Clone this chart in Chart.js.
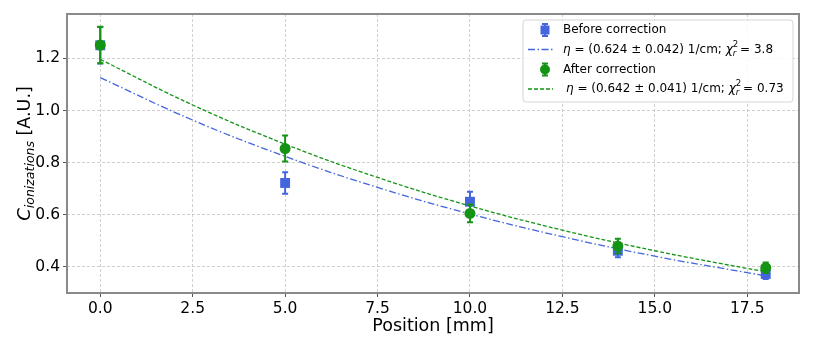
<!DOCTYPE html>
<html>
<head>
<meta charset="utf-8">
<script src="https://cdn.jsdelivr.net/npm/chart.js@4.4.1/dist/chart.umd.min.js"></script>
<style>
  html, body { margin: 0; padding: 0; background: #fff; }
  canvas { display: block; }
</style>
</head>
<body>
<canvas id="myChart" width="813" height="349"></canvas>
<script>
"use strict";

// measured points
const positions = [0, 5, 10, 14, 18];
const beforeVals = [1.25, 0.722, 0.650, 0.462, 0.373];
const beforeErr = [0.07, 0.041, 0.038, 0.025, 0.019];
const afterVals = [1.251, 0.854, 0.605, 0.480, 0.397];
const afterErr = [0.07, 0.05, 0.034, 0.028, 0.02];

// fit curves
const fitX = [0, 2.5, 5, 7.5, 10, 12.5, 15, 17.5, 18];
const fitBeforeVals = [1.126, 0.963, 0.824, 0.705, 0.603, 0.516, 0.441, 0.378, 0.366];
const fitAfterVals = [1.196, 1.021, 0.871, 0.743, 0.634, 0.541, 0.462, 0.394, 0.382];

const xTicks = [0, 2.5, 5, 7.5, 10, 12.5, 15, 17.5];
const yTicks = [0.4, 0.6, 0.8, 1.0, 1.2];

const legendLabels = ['Before correction', 'After correction'];
const fitLabels = [
    { eta: '(0.624 \u00b1 0.042) 1/cm; ', chi: ' = 3.8' },
    { eta: '(0.642 \u00b1 0.041) 1/cm; ', chi: ' = 0.73' }
];

const BLUE = '#4366dd';
const GREEN = '#149414';
const FONT = "'DejaVu Sans', sans-serif";

function toXY(xs, ys) {
    return xs.map((x, i) => ({ x: x, y: ys[i] }));
}

// error bars, drawn under the markers
const errorBars = {
    id: 'errorBars',
    beforeDatasetDraw(chart, args) {
        const ds = chart.data.datasets[args.index];
        if (!ds.errors) return;
        const ctx = chart.ctx;
        const xs = chart.scales.x, ys = chart.scales.y;
        ctx.save();
        ctx.strokeStyle = ds.backgroundColor;
        ctx.lineWidth = 2;
        ds.data.forEach((p, i) => {
            const px = xs.getPixelForValue(p.x);
            const top = ys.getPixelForValue(p.y + ds.errors[i]);
            const bot = ys.getPixelForValue(p.y - ds.errors[i]);
            ctx.beginPath();
            ctx.moveTo(px, top); ctx.lineTo(px, bot);
            ctx.moveTo(px - 3, top); ctx.lineTo(px + 3, top);
            ctx.moveTo(px - 3, bot); ctx.lineTo(px + 3, bot);
            ctx.stroke();
        });
        ctx.restore();
    }
};

function drawRuns(ctx, runs, x, y) {
    let cx = x;
    runs.forEach(r => {
        ctx.font = r.font;
        ctx.fillText(r.text, cx, y + (r.dy || 0));
        if (!r.noAdvance) cx += ctx.measureText(r.text).width;
    });
    return cx;
}

function runsWidth(ctx, runs) {
    let w = 0;
    runs.forEach(r => {
        ctx.font = r.font;
        if (!r.noAdvance) w += ctx.measureText(r.text).width;
    });
    return w;
}

// frame, legend and y title
const decorations = {
    id: 'decorations',
    afterDraw(chart) {
        const ctx = chart.ctx;
        const a = chart.chartArea;
        ctx.save();

        // full box round the axes
        ctx.strokeStyle = '#8a8a8a';
        ctx.lineWidth = 2;
        ctx.strokeRect(a.left, a.top, a.right - a.left, a.bottom - a.top);

        // y axis title
        const yRuns = [
            { text: 'C', font: 'italic 18px ' + FONT },
            { text: 'ionizations', font: 'italic 12.5px ' + FONT, dy: 4 },
            { text: ' [A.U.]', font: '17.5px ' + FONT }
        ];
        ctx.fillStyle = '#000';
        ctx.textBaseline = 'alphabetic';
        ctx.textAlign = 'left';
        ctx.translate(30, (a.top + a.bottom) / 2);
        ctx.rotate(-Math.PI / 2);
        drawRuns(ctx, yRuns, -runsWidth(ctx, yRuns) / 2, 0);
        ctx.setTransform(1, 0, 0, 1, 0, 0);

        // legend box
        const lx = 523, ly = 20, lw = 270, lh = 82;
        ctx.beginPath();
        ctx.roundRect(lx, ly, lw, lh, 3);
        ctx.fillStyle = 'rgba(255,255,255,0.85)';
        ctx.fill();
        ctx.strokeStyle = '#d6d6d6';
        ctx.lineWidth = 1;
        ctx.stroke();

        const rows = [30, 49.5, 69.5, 89];
        const colours = [BLUE, GREEN];
        const dashes = [[7, 2.5, 1.5, 2.5], [4, 2]];
        [0, 1].forEach(k => {
            const c = colours[k];
            const yMark = rows[k * 2];
            const yLine = rows[k * 2 + 1];
            // marker with error bar
            ctx.strokeStyle = c;
            ctx.fillStyle = c;
            ctx.lineWidth = 2;
            ctx.beginPath();
            ctx.moveTo(545, yMark - 6); ctx.lineTo(545, yMark + 6);
            ctx.moveTo(542, yMark - 6); ctx.lineTo(548, yMark - 6);
            ctx.moveTo(542, yMark + 6); ctx.lineTo(548, yMark + 6);
            ctx.stroke();
            ctx.beginPath();
            if (k === 0) ctx.rect(540.5, yMark - 4.5, 9, 9);
            else ctx.arc(545, yMark, 5, 0, Math.PI * 2);
            ctx.fill();
            // line sample
            ctx.lineWidth = 1.3;
            ctx.setLineDash(dashes[k]);
            ctx.beginPath();
            ctx.moveTo(528, yLine); ctx.lineTo(553, yLine);
            ctx.stroke();
            ctx.setLineDash([]);

            // texts
            ctx.fillStyle = '#000';
            ctx.textBaseline = 'middle';
            ctx.font = '12px ' + FONT;
            ctx.fillText(legendLabels[k], 563, yMark);
            const startX = k === 0 ? 563 : 566;
            const f = fitLabels[k];
            const runs = [
                { text: '\u03b7', font: 'italic 12px ' + FONT },
                { text: ' = ' + f.eta, font: '12px ' + FONT },
                { text: '\u03c7', font: 'italic 12px ' + FONT },
                { text: '2', font: '8.5px ' + FONT, dy: -5, noAdvance: true },
                { text: 'r', font: 'italic 8.5px ' + FONT, dy: 4 },
                { text: ' ' + f.chi.trim(), font: '12px ' + FONT }
            ];
            drawRuns(ctx, runs, startX, yLine);
        });
        ctx.restore();
    }
};

const ctx = document.getElementById('myChart').getContext('2d');
new Chart(ctx, {
    type: 'scatter',
    data: {
        datasets: [{
                label: 'fit before',
                type: 'line',
                data: toXY(fitX, fitBeforeVals),
                borderColor: BLUE,
                borderWidth: 1.3,
                borderDash: [7, 2.5, 1.5, 2.5],
                pointRadius: 0,
                tension: 0.4,
                fill: false,
                order: 3
            },
            {
                label: legendLabels[0],
                data: toXY(positions, beforeVals),
                errors: beforeErr,
                backgroundColor: BLUE,
                borderColor: BLUE,
                pointStyle: 'rect',
                pointRadius: 7,
                borderWidth: 0,
                order: 4
            },
            {
                label: 'fit after',
                type: 'line',
                data: toXY(fitX, fitAfterVals),
                borderColor: GREEN,
                borderWidth: 1.3,
                borderDash: [4, 2],
                pointRadius: 0,
                tension: 0.4,
                fill: false,
                order: 1
            },
            {
                label: legendLabels[1],
                data: toXY(positions, afterVals),
                errors: afterErr,
                backgroundColor: GREEN,
                borderColor: GREEN,
                pointStyle: 'circle',
                pointRadius: 5.5,
                borderWidth: 0,
                order: 2
            }
        ]
    },
    options: {
        responsive: false,
        animation: false,
        layout: { padding: { top: 14, right: 14, left: 0, bottom: 0 } },
        plugins: {
            legend: { display: false },
            tooltip: { enabled: false }
        },
        scales: {
            x: {
                type: 'linear',
                min: -0.9,
                max: 18.9,
                afterBuildTicks: s => { s.ticks = xTicks.map(v => ({ value: v })); },
                afterFit: s => { s.height = 56; },
                ticks: {
                    color: '#000',
                    font: { family: FONT, size: 15.5 },
                    padding: 3,
                    maxRotation: 0,
                    callback: v => v.toFixed(1)
                },
                grid: {
                    color: '#c4c4c4',
                    lineWidth: 0.8,
                    tickColor: '#555',
                    tickLength: 4,
                    tickWidth: 1
                },
                border: { display: false, dash: [3, 2] },
                title: {
                    display: true,
                    text: 'Position [mm]',
                    color: '#000',
                    font: { family: FONT, size: 17.5 },
                    padding: { top: 0, bottom: 12 }
                }
            },
            y: {
                type: 'linear',
                min: 0.3,
                max: 1.37,
                afterBuildTicks: s => { s.ticks = yTicks.map(v => ({ value: v })); },
                afterFit: s => { s.width = 67; },
                ticks: {
                    color: '#000',
                    font: { family: FONT, size: 15.5 },
                    padding: 3,
                    callback: v => v.toFixed(1)
                },
                grid: {
                    color: '#c4c4c4',
                    lineWidth: 0.8,
                    tickColor: '#555',
                    tickLength: 4,
                    tickWidth: 1
                },
                border: { display: false, dash: [3, 2] }
            }
        }
    },
    plugins: [errorBars, decorations]
});
</script>
</body>
</html>
